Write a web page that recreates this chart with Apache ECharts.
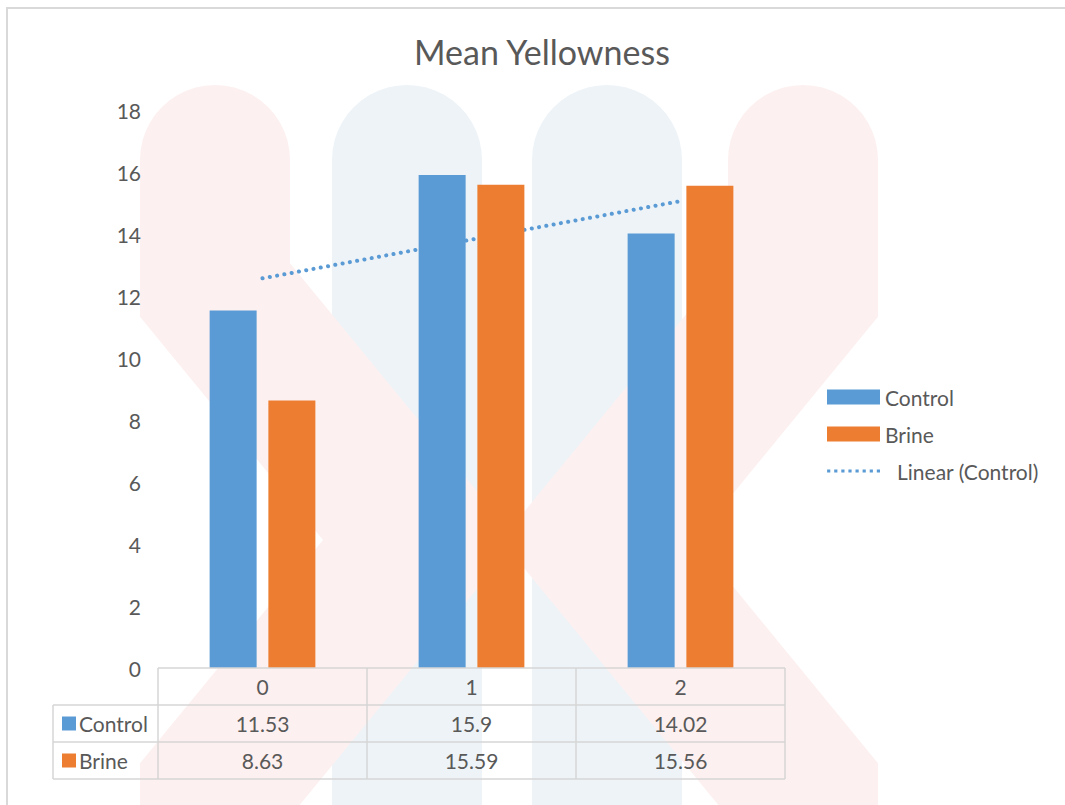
<!DOCTYPE html>
<html>
<head>
<meta charset="utf-8">
<script src="https://cdn.jsdelivr.net/npm/echarts@6/dist/echarts.min.js"></script>
<style>
html,body{margin:0;padding:0;background:#fff;}
#chart{width:1065px;height:805px;}
</style>
</head>
<body>
<div id="chart"></div>
<script>
// ---- data ----
const categories = ['0', '1', '2'];
const controlValues = [11.53, 15.9, 14.02];
const brineValues = [8.63, 15.59, 15.56];
const trendControl = [12.57, 13.82, 15.06]; // Linear (Control)
const yTicks = [0, 2, 4, 6, 8, 10, 12, 14, 16, 18];
const seriesNames = ['Control', 'Brine', 'Linear (Control)'];

const FONT = 'Lato';
const TXT = '#595959';
const BLUE = '#5b9bd5';
const ORANGE = '#ed7d31';

// dotted legend sample (53 x 15 box)
let dotPath = 'path://M0,0L0,0M53,15L53,15';
for (let k = 0; k < 8; k++) {
  const x = 1.7 + k * 7.1;
  dotPath += `M${(x - 1.6).toFixed(2)},5.9L${(x + 1.6).toFixed(2)},5.9L${(x + 1.6).toFixed(2)},9.1L${(x - 1.6).toFixed(2)},9.1Z`;
}

const chart = echarts.init(document.getElementById('chart'), null, {renderer: 'svg'});

chart.setOption({
  backgroundColor: '#ffffff',
  animation: false,
  title: {
    text: 'Mean Yellowness',
    left: 537, top: 29, textAlign: 'center',
    textStyle: {fontFamily: FONT, fontSize: 34, fontWeight: 'normal', color: TXT}
  },
  grid: {left: 158, right: 280, top: 110, bottom: 137},
  legend: {
    orient: 'vertical', left: 822, top: 381,
    itemWidth: 53, itemHeight: 15, itemGap: 15,
    data: [
      {name: seriesNames[0], icon: 'rect'},
      {name: seriesNames[1], icon: 'rect'},
      {name: seriesNames[2], icon: dotPath, itemStyle: {borderWidth: 0}}
    ],
    formatter: name => name === seriesNames[2] ? '{p|' + name + '}' : name,
    textStyle: {
      fontFamily: FONT, fontSize: 21, color: TXT, lineHeight: 22,
      rich: {p: {fontFamily: FONT, fontSize: 21, color: TXT, lineHeight: 22, padding: [0, 0, 0, 12]}}
    }
  },
  xAxis: {
    type: 'category', data: categories,
    axisLine: {show: false}, axisTick: {show: false},
    axisLabel: {fontFamily: FONT, fontSize: 21, color: TXT, margin: 8},
    splitLine: {show: false}
  },
  yAxis: {
    type: 'value', min: yTicks[0], max: yTicks[yTicks.length - 1], interval: 2,
    axisLine: {show: false}, axisTick: {show: false}, splitLine: {show: false},
    axisLabel: {fontFamily: FONT, fontSize: 21, color: TXT, margin: 17}
  },
  series: [
    {name: seriesNames[0], type: 'bar', data: controlValues, barWidth: 47, barGap: '25%',
     itemStyle: {color: BLUE}, z: 3},
    {name: seriesNames[1], type: 'bar', data: brineValues, barWidth: 47,
     itemStyle: {color: ORANGE}, z: 3},
    {name: seriesNames[2], type: 'line', data: trendControl, symbol: 'none', z: 2,
     lineStyle: {color: BLUE, width: 4, type: [0.1, 7.3], cap: 'round'},
     itemStyle: {color: BLUE}}
  ]
});

// ---- data table + decorations ----
const c0 = chart.convertToPixel({xAxisIndex: 0}, 0);
const c1 = chart.convertToPixel({xAxisIndex: 0}, 1);
const band = c1 - c0;
const y0 = chart.convertToPixel({yAxisIndex: 0}, 0);
const left = c0 - band / 2;
const right = left + band * categories.length;
const rowH = 37;
const labelLeft = 53;
const GRID_C = '#d6d6d6';

const els = [];

// faint watermark ribbons (behind everything)
function ribbon(path, color, z) {
  const r = 75, pts = [];
  const [cx, cy] = path[0];
  for (let k = 0; k <= 24; k++) {
    const a = Math.PI + Math.PI * k / 24;
    pts.push([cx + r * Math.cos(a), cy + r * Math.sin(a)]);
  }
  const rightSide = [], leftSide = [];
  for (let i = 1; i < path.length; i++) {
    const p = path[i], prev = path[i - 1], next = path[i + 1];
    const nrm = (a, b) => { const dx = b[0] - a[0], dy = b[1] - a[1], l = Math.hypot(dx, dy); return [dy / l, -dx / l]; };
    const na = nrm(prev, p);
    let m = na, len = r;
    if (next) {
      const nb = nrm(p, next);
      const sx = na[0] + nb[0], sy = na[1] + nb[1], sl = Math.hypot(sx, sy);
      m = [sx / sl, sy / sl];
      len = r / (m[0] * na[0] + m[1] * na[1]);
    }
    rightSide.push([p[0] + m[0] * len, p[1] + m[1] * len]);
    leftSide.push([p[0] - m[0] * len, p[1] - m[1] * len]);
  }
  pts.push(...rightSide, ...leftSide.reverse());
  els.push({type: 'polygon', shape: {points: pts}, style: {fill: color}, z: z, silent: true});
}
const RED_W = '#fdf0f0';
const BLUE_W = '#edf3f7';
ribbon([[407,160],[407,820]], BLUE_W, -20);
ribbon([[607,160],[607,820]], BLUE_W, -20);
ribbon([[215,160],[215,290],[420,540],[215,790],[215,830]], RED_W, -19);
ribbon([[803,160],[803,290],[598,540],[803,790],[803,830]], RED_W, -19);

// outer chart-area border
els.push({type: 'rect', shape: {x: 7, y: 8, width: 1200, height: 1000}, style: {fill: 'none', stroke: '#d9d9d9', lineWidth: 2}, silent: true, z: 10});

// table lines
function hline(x1, x2, y) { els.push({type: 'line', shape: {x1, y1: y, x2, y2: y}, style: {stroke: GRID_C, lineWidth: 1.5}, silent: true, z: 10}); }
function vline(x, y1, y2) { els.push({type: 'line', shape: {x1: x, y1, x2: x, y2}, style: {stroke: GRID_C, lineWidth: 1.5}, silent: true, z: 10}); }
hline(left, right, y0);
hline(labelLeft, right, y0 + rowH);
hline(labelLeft, right, y0 + rowH * 2);
hline(labelLeft, right, y0 + rowH * 3);
vline(labelLeft, y0 + rowH, y0 + rowH * 3);
for (let i = 0; i <= categories.length; i++) vline(left + band * i, y0, y0 + rowH * 3);

const rows = [
  {name: seriesNames[0], color: BLUE, values: controlValues},
  {name: seriesNames[1], color: ORANGE, values: brineValues}
];
rows.forEach((r, ri) => {
  const cy = y0 + rowH * (ri + 1) + rowH / 2;
  els.push({type: 'rect', shape: {x: 62, y: cy - 7, width: 14, height: 14}, style: {fill: r.color}, silent: true, z: 10});
  els.push({type: 'text', x: 79, y: cy, style: {text: r.name, fontFamily: FONT, fontSize: 21, fill: TXT, align: 'left', verticalAlign: 'middle'}, silent: true, z: 10});
  r.values.forEach((v, i) => {
    els.push({type: 'text', x: left + band * i + band / 2, y: cy,
      style: {text: String(v), fontFamily: FONT, fontSize: 21, fill: TXT, align: 'center', verticalAlign: 'middle'}, silent: true, z: 10});
  });
});

chart.setOption({graphic: {elements: els}});
</script>
</body>
</html>
